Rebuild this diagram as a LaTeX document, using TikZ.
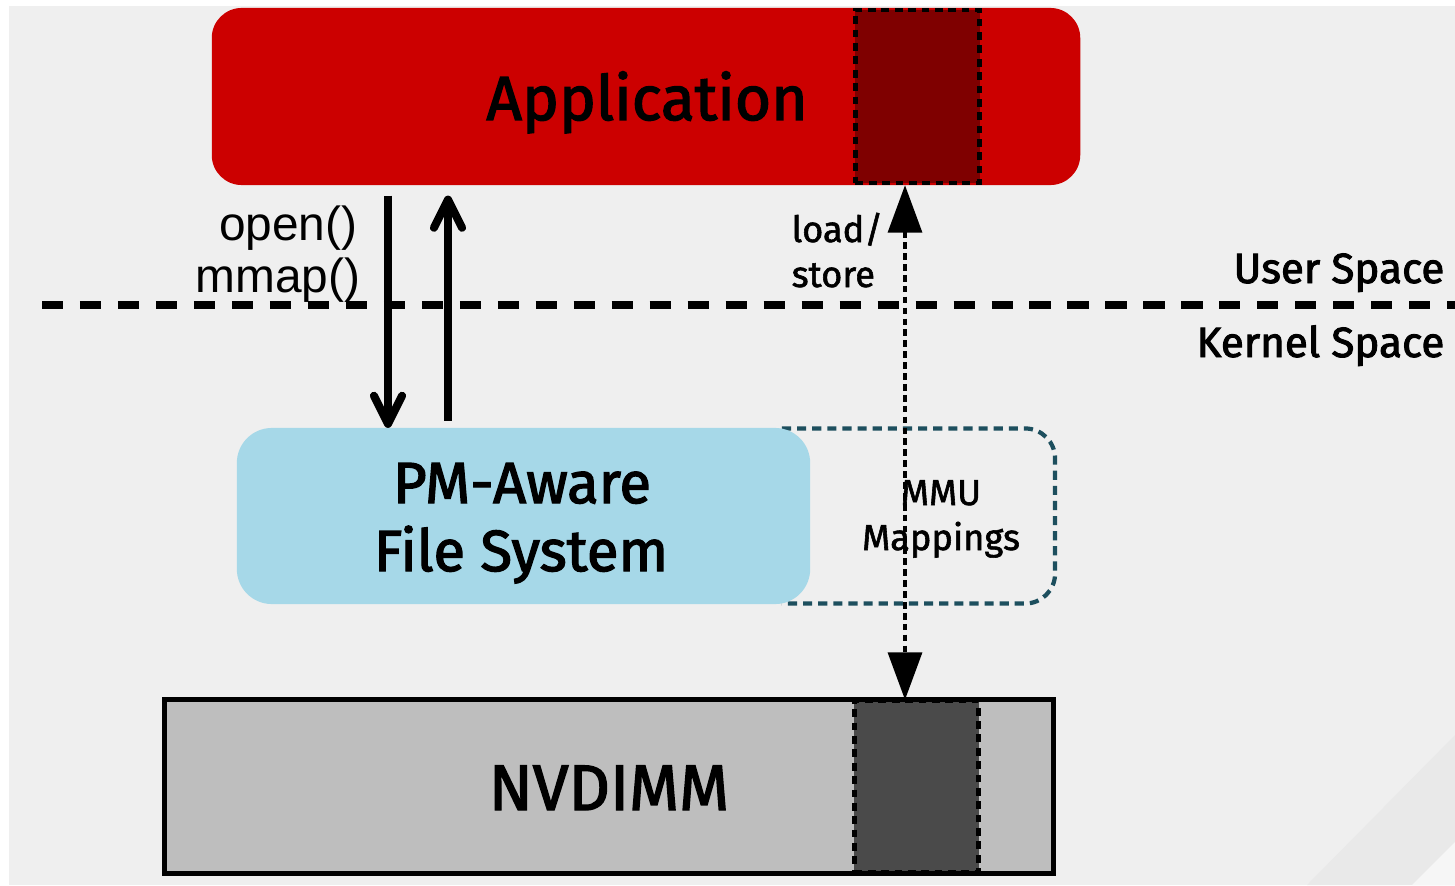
\documentclass[tikz,border=0pt]{standalone}
\usepackage{fontspec}
\setmainfont{Fira Sans}
\newfontfamily\semifont{Fira Sans}[FakeBold=2.2]
\newfontfamily\medfont{Fira Sans}[FakeBold=1.6]
\newfontfamily\callfont{Liberation Sans}
\usetikzlibrary{arrows.meta}

\definecolor{bgGrey}{HTML}{EFEFEF}
\definecolor{bandGrey}{HTML}{E9E9E9}
\definecolor{bandLight}{HTML}{F6F6F6}
\definecolor{appRed}{HTML}{CC0000}
\definecolor{appDark}{HTML}{7F0000}
\definecolor{fsBlue}{HTML}{A6D8E8}
\definecolor{nvGrey}{HTML}{BEBEBE}
\definecolor{nvDark}{HTML}{4A4A4A}
\definecolor{mmuTeal}{HTML}{1D4F5E}

\begin{document}
\begin{tikzpicture}[x=0.01cm,y=-0.01cm,
  boxbase/.style={draw=none, inner sep=0pt, outer sep=0pt},
  appbox/.style={boxbase, fill=appRed, rounded corners=0.3cm,
    minimum width=8.68cm, minimum height=1.77cm},
  pmbox/.style={boxbase, fill=fsBlue, rounded corners=0.35cm,
    minimum width=5.73cm, minimum height=1.76cm},
  mmubox/.style={boxbase, minimum width=2.73cm, minimum height=1.75cm},
  mmuline/.style={draw=mmuTeal, line width=1.2pt,
    dash pattern=on 2.6pt off 1.7pt, rounded corners=0.3cm},
  nvbox/.style={boxbase, fill=nvGrey,
    minimum width=8.88cm, minimum height=1.73cm},
  nvframe/.style={draw=black, line width=1.4pt},
  pageblock/.style={boxbase, draw=black, line width=1.2pt,
    dash pattern=on 2.2pt off 1.6pt, minimum width=1.24cm},
  apptext/.style={inner sep=0pt, font=\semifont\fontsize{17.7}{20}\selectfont},
  nvtext/.style={inner sep=0pt, font=\semifont\fontsize{18.3}{20}\selectfont},
  midtext/.style={inner sep=0pt, font=\semifont\fontsize{16.5}{19}\selectfont},
  spacetext/.style={inner sep=0pt, font=\semifont\fontsize{12}{14}\selectfont},
  smalltext/.style={inner sep=0pt, font=\medfont\fontsize{10.3}{12}\selectfont},
  calltext/.style={inner sep=0pt, font=\callfont\fontsize{13.6}{16}\selectfont},
  sepline/.style={line width=2.5pt, dash pattern=on 6pt off 4.8pt},
  callarrow/.style={line width=2.3pt,
    -{Straight Barb[length=8pt,width=8pt,round]}},
  ldstline/.style={line width=1.4pt, dash pattern=on 1.9pt off 1.2pt,
    {Triangle[length=13.5pt,width=9.5pt]}-{Triangle[length=13.5pt,width=9.5pt]}}
]
  % page and background
  \useasboundingbox (0,0) rectangle (1455,885);
  \fill[white] (0,0) rectangle (1455,885);
  \fill[bgGrey] (9,6) rectangle (1455,885);
  \fill[bandGrey] (1455,735) -- (1307,885) -- (1455,885) -- cycle;
  \fill[bandLight] (1455,842) -- (1412,885) -- (1455,885) -- cycle;

  % application with its mapped page
  \node[appbox] (app) at (646,96.5) {};
  \node[pageblock, fill=appDark, minimum height=1.73cm] (apppg) at (917.5,96.5) {};
  \node[apptext, anchor=base] (apptxt) at (647,120) {Application};

  % user / kernel boundary
  \coordinate (sepL) at (42,305);
  \coordinate (sepR) at (1455,305);
  \draw[sepline] (sepL) -- (sepR);
  \node[spacetext, anchor=base east] (user) at (1445,283) {User Space};
  \node[spacetext, anchor=base east] (kernel) at (1445,357) {Kernel Space};

  % MMU mappings region, open on the file-system side
  \node[mmubox] (mmu) at (918.5,516) {};
  \draw[mmuline] (mmu.north west) -- (mmu.north east) -- (mmu.south east) -- (mmu.south west);
  \node[smalltext, anchor=base] (mmu1) at (941,505) {MMU};
  \node[smalltext, anchor=base] (mmu2) at (941,550) {Mappings};

  % PM-aware file system
  \node[pmbox] (pm) at (523.5,516) {};
  \node[midtext, anchor=base] (pm1) at (522,503) {PM-Aware};
  \node[midtext, anchor=base] (pm2) at (521,571) {File System};

  % NVDIMM with its mapped page
  \node[nvbox] (nv) at (609,786.5) {};
  \node[pageblock, fill=nvDark, minimum height=1.71cm] (nvpg) at (916.5,786.5) {};
  \draw[nvframe] (nv.north west) rectangle (nv.south east);
  \node[nvtext, anchor=base] (nvtxt) at (609,810) {NVDIMM};

  % system calls
  \coordinate (downx) at (388,0);
  \coordinate (upx) at (448,0);
  \node[calltext, anchor=base east] (open) at (358,240) {open()};
  \node[calltext, anchor=base east] (mmap) at (361,292) {mmap()};
  \draw[callarrow, shorten <=3pt] (app.south -| downx) -- (pm.north -| downx);
  \draw[callarrow, shorten <=2pt, shorten >=3pt] (pm.north -| upx) -- (app.south -| upx);

  % direct load/store access
  \coordinate (lsx) at (905,0);
  \node[smalltext, anchor=base west] (load) at (791,242) {load/};
  \node[smalltext, anchor=base west] (store) at (791,287) {store};
  \draw[ldstline] (app.south -| lsx) -- (nv.north -| lsx);
\end{tikzpicture}
\end{document}
